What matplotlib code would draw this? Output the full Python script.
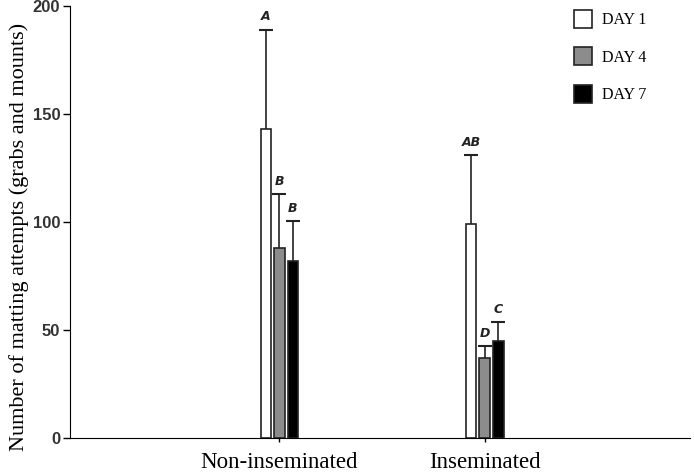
import numpy as np
import matplotlib
matplotlib.use('Agg')
import matplotlib.pyplot as plt

# data
groups = ['Non-inseminated', 'Inseminated']
days = ['DAY 1', 'DAY 4', 'DAY 7']
means = {'DAY 1': [143, 99], 'DAY 4': [88, 37], 'DAY 7': [82, 45]}
errs = {'DAY 1': [46, 32], 'DAY 4': [25, 5.5], 'DAY 7': [18.5, 8.5]}
letters = {'DAY 1': ['A', 'AB'], 'DAY 4': ['B', 'D'], 'DAY 7': ['B', 'C']}
colors = {'DAY 1': 'white', 'DAY 4': '#8c8c8c', 'DAY 7': 'black'}

fig = plt.figure(figsize=(6.94, 4.75), dpi=100)
ax = fig.add_axes([0.101, 0.078, 0.893, 0.909])

x = np.arange(len(groups))
width = 0.052
offsets = [-0.066, 0, 0.066]
cap = 0.034

for day, off in zip(days, offsets):
    pos = x + off
    ax.bar(pos, means[day], width, color=colors[day], edgecolor='#222222',
           linewidth=1.2, label=day, zorder=2)
    tops = np.array(means[day]) + np.array(errs[day])
    # upper error bars only
    ax.vlines(pos, means[day], tops, color='#222222', linewidth=1.2, zorder=1)
    ax.hlines(tops, pos - cap, pos + cap, color='#222222', linewidth=1.5, zorder=1)
    for p, t, s in zip(pos, tops, letters[day]):
        ax.text(p, t + 3, s, ha='center', va='bottom', fontsize=9,
                fontweight='bold', fontstyle='italic', family='DejaVu Sans',
                color='#222222')

ax.set_xlim(-1.02, 2.0)
ax.set_ylim(0, 200)
ax.set_yticks([0, 50, 100, 150, 200])
ax.set_xticks(x)
ax.set_xticklabels(groups, family='Liberation Serif', fontsize=16.5)
for lab in ax.get_yticklabels():
    lab.set_family('Liberation Sans')
    lab.set_fontweight('bold')
    lab.set_fontsize(12)
    lab.set_color('#333333')
ax.tick_params(axis='y', length=5, width=1, pad=2)
ax.tick_params(axis='x', length=3, width=1, pad=7)
ax.spines['top'].set_visible(False)
ax.spines['right'].set_visible(False)
ax.set_ylabel('Number of matting attempts (grabs and mounts)',
              family='Liberation Serif', fontsize=16)
ax.yaxis.set_label_coords(-0.067, 0.465)

ax.legend(loc='upper left', bbox_to_anchor=(566 / 694, 1 - 2 / 475),
          bbox_transform=fig.transFigure, frameon=False, borderpad=0,
          prop={'family': 'Liberation Serif', 'size': 11.5},
          handlelength=1.13, handleheight=1.34, labelspacing=1.2,
          handletextpad=0.65)

fig.savefig('out.png', dpi=100)
